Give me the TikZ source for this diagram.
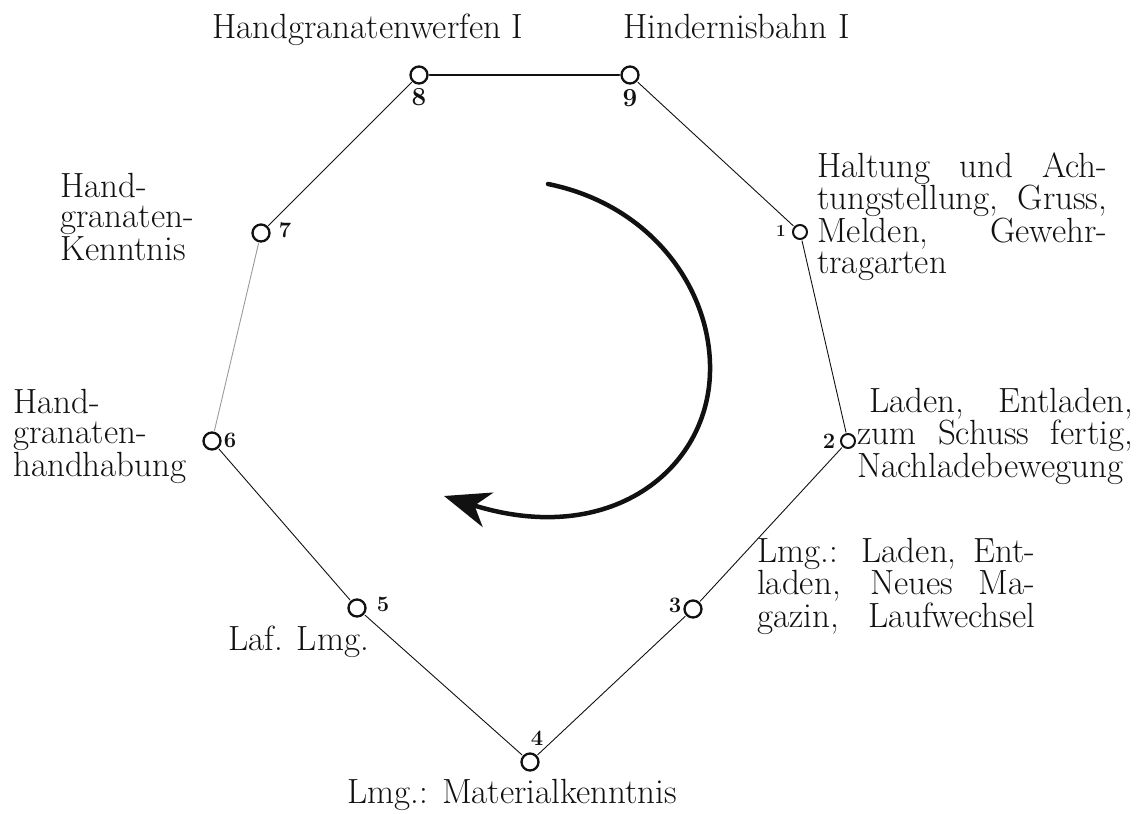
\documentclass[tikz,border=0pt]{standalone}
\usetikzlibrary{arrows.meta}
\definecolor{ink}{HTML}{111111}
\definecolor{faint}{HTML}{9A9A9A}
\newcommand{\jline}[2]{\makebox[#1][s]{#2}}

\begin{document}
\begin{tikzpicture}[x=1pt,y=-1pt,line cap=round,line join=round,
  lbl/.style={ink,inner sep=0pt,font=\fontsize{35}{30.5}\selectfont},
  num/.style={ink,inner sep=0pt,font=\fontsize{22}{22}\bfseries},
  stn/.style={circle,draw=ink,line width=2.3pt,minimum size=17pt,inner sep=0pt},
  small stn/.style={stn,minimum size=14pt,line width=2pt},
  link/.style={ink,line width=.9pt,shorten <=1pt,shorten >=1pt}]
  \useasboundingbox (0,0) rectangle (1144,814);

  % stations
  \node[small stn] (s1) at (800,232) {};
  \node[small stn] (s2) at (848,441) {};
  \node[stn] (s3) at (693,609) {};
  \node[stn] (s4) at (530,762) {};
  \node[stn] (s5) at (357,608) {};
  \node[stn] (s6) at (212,441) {};
  \node[stn] (s7) at (261,233) {};
  \node[stn] (s8) at (419,75) {};
  \node[stn] (s9) at (630,75) {};

  % ring
  \draw[link,line width=1.4pt] (s8) -- (s9);
  \draw[link] (s9) -- (s1);
  \draw[link] (s1) -- (s2);
  \draw[link] (s2) -- (s3);
  \draw[link] (s3) -- (s4);
  \draw[link] (s4) -- (s5);
  \draw[link] (s5) -- (s6);
  \draw[link,faint] (s6) -- (s7);
  \draw[link] (s7) -- (s8);

  % numbers
  \node[num,font=\fontsize{17}{17}\bfseries] (n1) at (781,231) {1};
  \node[num] (n2) at (829,441) {2};
  \node[num] (n3) at (675,605) {3};
  \node[num] (n4) at (537,738) {4};
  \node[num] (n5) at (383,604) {5};
  \node[num] (n6) at (230,440) {6};
  \node[num] (n7) at (285,230) {7};
  \node[num,font=\fontsize{26}{26}\bfseries] (n8) at (419,97) {8};
  \node[num,font=\fontsize{26}{26}\bfseries] (n9) at (630,98) {9};

  % texts (multi-line nodes sit on their last baseline)
  \node[lbl,anchor=base west] (t8) at (212,38) {Handgranatenwerfen I};
  \node[lbl,anchor=base west] (t9) at (623,38) {Hindernisbahn I};
  \node[lbl,anchor=base west,align=left] (t1) at (817,273)
    {\jline{290pt}{Haltung und Ach-}\\\jline{290pt}{tungstellung, Gruss,}\\
     \jline{290pt}{Melden, Gewehr-}\\tragarten};
  \node[lbl,anchor=base west,align=left] (t7) at (60,260) {Hand-\\granaten-\\Kenntnis};
  \node[lbl,anchor=base west,align=left] (t6) at (13,476) {Hand-\\granaten-\\handhabung};
  \node[lbl,anchor=base west,align=left] (t2) at (857,477)
    {\hspace*{12pt}\jline{264pt}{Laden, Entladen,}\\\jline{276pt}{zum Schuss fertig,}\\
     Nachladebewegung};
  \node[lbl,anchor=base west,align=left] (t3) at (757,627)
    {\jline{278pt}{Lmg.: Laden, Ent-}\\\jline{278pt}{laden, Neues Ma-}\\
     \jline{278pt}{gazin, Laufwechsel}};
  \node[lbl,anchor=base west] (t5) at (228,650) {Laf. Lmg.};
  \node[lbl,anchor=base west] (t4) at (347,803) {Lmg.: Materialkenntnis};

  % direction of the round
  \draw[ink,line width=4.5pt,-{Stealth[length=46pt,width=36pt,inset=14pt]}]
    (548,184) .. controls (652,205) and (712,290) .. (710,372)
    .. controls (708,470) and (610,548) .. (444,496);
\end{tikzpicture}
\end{document}
